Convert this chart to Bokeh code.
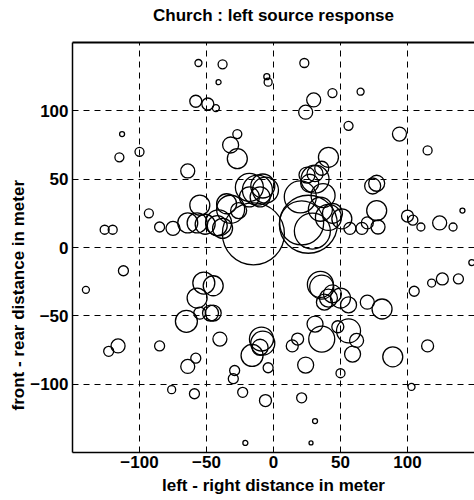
from bokeh.plotting import figure
from bokeh.models import Range1d, FixedTicker, ColumnDataSource, LinearAxis, Title
from bokeh.embed import file_html
from bokeh.resources import INLINE

# circle centres (meters) and marker diameters (px)
xs = [-56, -38, -41, -58, -49, -43, -5, -4, 23, 30, 24, 44, 65, 56, 94,
      -113, -115, -100, -64, -32, -27, -27, -93, -126, -120, -85, -75, -64,
      -55, -57, -51, -42, -35, -32, -38, -26, -18, -12, -8, -18, -10,
      -15, 26, 21, 20, 31, 41, 36, 25, 31, 27, 74, 77, 77, 100, 104, 110,
      124, 134, 141, 78, 70, 66, 57, 51, 44, 41, 37, 35, 29, -41, -6, 115,
      148, 105, 118, 126, 138, 115, 89, 103, 35, 36, 44, 41, 50, 56, 38,
      70, 81, 31, 36, 56, 48, 62, 59, 18, 14, 24, 50, -4, -6, 21, 31, 28,
      -21, -52, -45, -57, -47, -55, -45, -65, -40, -85, -58, -64, -9, -8,
      -16, -10, -29, -30, -76, -59, -23, -112, -140, -123, -116]
ys = [135, 134, 121, 107, 105, 102, 125, 121, 135, 108, 99, 113, 114, 89, 83,
      83, 66, 70, 56, 75, 83, 65, 25, 13, 13, 15, 14, 18,
      31, 18, 17, 16, 32, 28, 14, 27, 44, 42, 45, 37, 37,
      10, 17, 18, 37, 50, 66, 58, 53, 54, 47, 45, 47, 27, 23, 20, 15,
      18, 15, 27, 15, 18, 14, 14, 21, 25, 22, 38, 28, 12, 18, 42, 71,
      -11, -32, -26, -23, -23, -72, -80, -102, -27, -29, -34, -37, -37, -42, -40,
      -40, -45, -56, -67, -61, -58, -68, -78, -67, -72, -86, -92, -88, -112, -110, -127, -143,
      -143, -26, -28, -37, -48, -48, -48, -54, -67, -72, -81, -87, -67, -70,
      -79, -73, -90, -96, -104, -107, -106, -17, -31, -76, -72]
sizes = [7, 9, 5, 12, 12, 7, 6, 8, 9, 14, 14, 9, 7, 9, 14,
         5, 9, 9, 14, 16, 9, 20, 9, 9, 9, 10, 14, 20,
         20, 20, 20, 20, 20, 28, 20, 16, 28, 30, 24, 20, 20,
         62, 58, 44, 32, 28, 20, 14, 16, 16, 18, 16, 16, 20, 12, 10, 8,
         14, 8, 5, 14, 12, 12, 12, 20, 20, 26, 24, 24, 36, 26, 26, 9,
         6, 10, 8, 12, 10, 12, 20, 7, 26, 24, 18, 18, 20, 16, 16,
         14, 20, 16, 26, 24, 12, 14, 16, 12, 12, 16, 9, 10, 12, 10, 5, 4,
         5, 22, 20, 20, 16, 12, 16, 22, 14, 10, 10, 14, 24, 24,
         22, 16, 10, 10, 8, 10, 10, 10, 7, 10, 14]

ticks = [-100, -50, 0, 50, 100]
title_text = "Church : left source response"
xlabel = "left - right distance in meter"
ylabel = "front - rear distance in meter"

src = ColumnDataSource(dict(x=xs, y=ys, s=sizes))

FONT = "Liberation Sans"

p = figure(width=474, height=500, output_backend="svg", toolbar_location=None,
           x_range=Range1d(-150, 150), y_range=Range1d(-150, 150),
           min_border_left=72, min_border_right=0, min_border_top=42,
           min_border_bottom=48)

p.scatter("x", "y", size="s", source=src, marker="circle",
          fill_color=None, line_color="black", line_width=1.3)

for ax in (p.xaxis[0], p.yaxis[0]):
    ax.ticker = FixedTicker(ticks=ticks)
    ax.major_tick_in = 0
    ax.major_tick_out = 0
    ax.minor_tick_line_color = None
    ax.axis_line_color = "black"
    ax.axis_line_width = 1.5
    ax.major_label_text_font = FONT
    ax.major_label_text_font_size = "17px"
    ax.major_label_text_font_style = "bold"
    ax.major_label_text_color = "black"
    ax.axis_label_text_font = FONT
    ax.axis_label_text_font_size = "17px"
    ax.axis_label_text_font_style = "bold"
    ax.axis_label_text_color = "black"

p.xaxis.axis_label = xlabel
p.xaxis.major_label_standoff = 3
p.xaxis.axis_label_standoff = 5
p.yaxis.major_label_standoff = 4

# top axis: thick frame line, carries the title as its label
top = LinearAxis(ticker=FixedTicker(ticks=[]), axis_label=title_text,
                 axis_line_width=2, axis_line_color="black",
                 major_tick_in=0, major_tick_out=0, minor_tick_line_color=None,
                 major_label_standoff=0, axis_label_standoff=18,
                 axis_label_text_font=FONT, axis_label_text_font_size="17px",
                 axis_label_text_font_style="bold", axis_label_text_color="black")
p.add_layout(top, "above")

# y label, starting above the frame bottom as in the reference
p.add_layout(Title(text=ylabel, align="left", offset=42, standoff=0,
                   text_font=FONT, text_font_size="17px", text_font_style="bold",
                   text_color="black"), "left")

for g in (p.xgrid[0], p.ygrid[0]):
    g.ticker = FixedTicker(ticks=ticks)
    g.grid_line_color = "black"
    g.grid_line_dash = "6 5"
    g.grid_line_width = 1

p.outline_line_color = None

open("out.html", "w").write(file_html(p, INLINE))
